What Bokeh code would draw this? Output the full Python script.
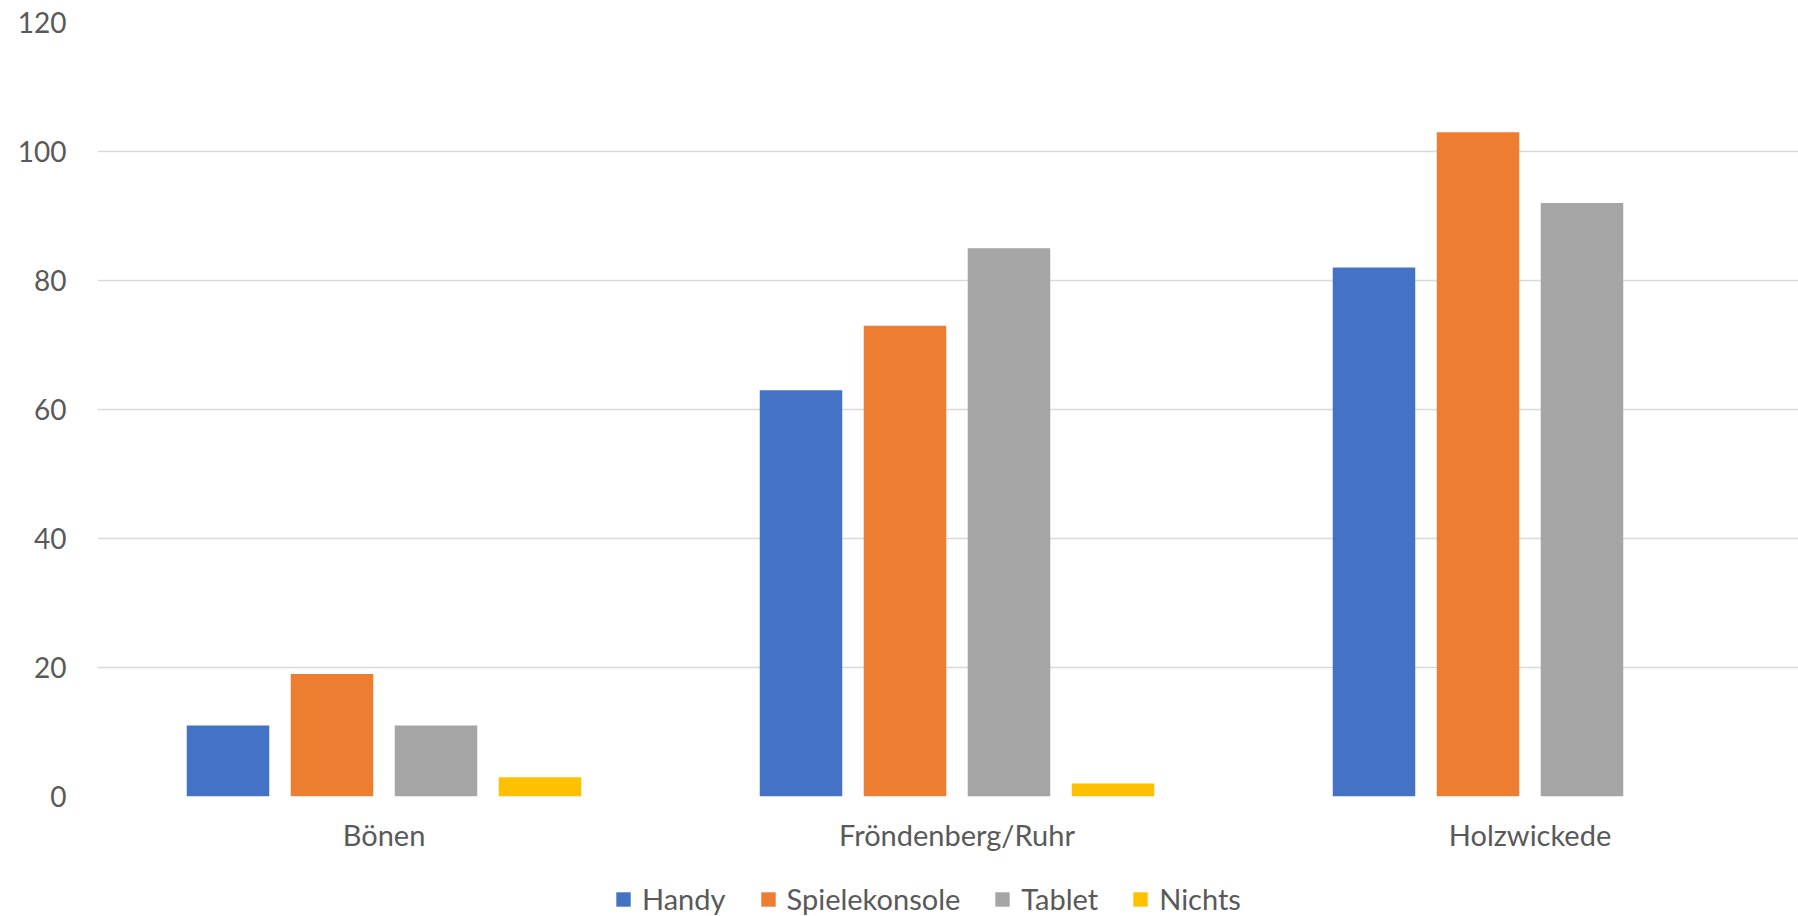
from bokeh.plotting import figure
from bokeh.models import Range1d, FixedTicker, Legend, LegendItem, ColumnDataSource
from bokeh.layouts import column
from bokeh.embed import file_html
from bokeh.resources import INLINE
from bokeh.transform import dodge

categories = ["Bönen", "Fröndenberg/Ruhr", "Holzwickede"]
series = ["Handy", "Spielekonsole", "Tablet", "Nichts"]
handy = [11, 63, 82]
spielekonsole = [19, 73, 103]
tablet = [11, 85, 92]
nichts = [3, 2, 0]
colors = ["#4472C4", "#ED7D31", "#A5A5A5", "#FFC000"]
y_ticks = [0, 20, 40, 60, 80, 100, 120]

FONT = "Lato"
TXT = "#595959"
W = 1798

src = ColumnDataSource(dict(
    x=list(range(len(categories))),
    Handy=handy, Spielekonsole=spielekonsole, Tablet=tablet, Nichts=nichts,
))

p = figure(width=W, height=860, output_backend="svg", toolbar_location=None,
           x_range=Range1d(-0.5, 2.4686), y_range=Range1d(0, 120),
           min_border_left=97, min_border_right=0, min_border_top=22, min_border_bottom=64)
p.outline_line_color = None
p.background_fill_color = "white"
p.border_fill_color = "white"

step = 0.1815
bw = 0.144
for i, (s, c) in enumerate(zip(series, colors)):
    p.vbar(x=dodge("x", (i - 1.5) * step), top=s, bottom=0, width=bw, source=src,
           fill_color=c, line_color=None)

p.xaxis.ticker = FixedTicker(ticks=list(range(len(categories))))
p.xaxis.major_label_overrides = {i: c for i, c in enumerate(categories)}
p.xaxis.axis_line_color = None
p.xaxis.major_tick_line_color = None
p.xaxis.minor_tick_line_color = None
p.xaxis.major_label_text_font = FONT
p.xaxis.major_label_text_font_size = "29px"
p.xaxis.major_label_text_color = TXT
p.xaxis.major_label_standoff = 14

p.yaxis.ticker = FixedTicker(ticks=y_ticks)
p.yaxis.axis_line_color = None
p.yaxis.major_tick_line_color = None
p.yaxis.minor_tick_line_color = None
p.yaxis.major_label_text_font = FONT
p.yaxis.major_label_text_font_size = "28px"
p.yaxis.major_label_text_color = TXT
p.yaxis.major_label_standoff = 25

p.xgrid.grid_line_color = None
p.ygrid.ticker = FixedTicker(ticks=y_ticks)
p.ygrid.grid_line_color = "#D9D9D9"
p.ygrid.grid_line_width = 1.5

# legend strip below the chart
lg = figure(width=W, height=56, output_backend="svg", toolbar_location=None,
            x_range=Range1d(0, 1), y_range=Range1d(0, 1),
            x_axis_type=None, y_axis_type=None,
            min_border_left=0, min_border_right=0, min_border_top=0, min_border_bottom=0)
lg.outline_line_color = None
lg.grid.visible = False
items = []
for s, c in zip(series, colors):
    r = lg.vbar(x=[-5], top=[0], width=0.1, fill_color=c, line_color=None)
    items.append(LegendItem(label=s, renderers=[r]))
legend = Legend(items=items, orientation="horizontal", location=(517, 0),
                label_text_font=FONT, label_text_font_size="29px", label_text_color=TXT,
                glyph_width=18, glyph_height=18, label_standoff=10, spacing=33,
                border_line_color=None, background_fill_alpha=0, margin=0, padding=0)
lg.add_layout(legend, "center")

layout = column(p, lg, spacing=0)
open("out.html", "w").write(file_html(layout, INLINE))
